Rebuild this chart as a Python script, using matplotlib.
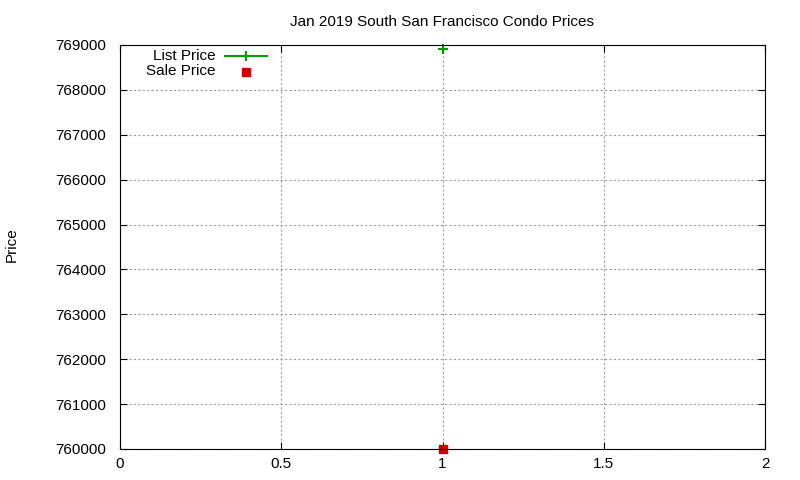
import matplotlib
matplotlib.use("Agg")
import matplotlib.pyplot as plt

x_list = [1]
list_price = [768900]
x_sale = [1]
sale_price = [760000]
yticks = [760000, 761000, 762000, 763000, 764000, 765000, 766000, 767000, 768000, 769000]
xticks = [0, 0.5, 1, 1.5, 2]
xticklabels = ["0", "0.5", "1", "1.5", "2"]

plt.rcParams['font.family'] = ['Liberation Sans', 'DejaVu Sans']
fig = plt.figure(figsize=(8, 4.8), dpi=100)
ax = fig.add_axes([120/800, 1-449/480, (765-120)/800, (449-45)/480])
ax.plot(x_list, list_price, color='#00a000', marker='+', markersize=7, mew=1.5, linestyle='none', clip_on=False)
ax.plot(x_sale, sale_price, color='#d00000', marker='s', markersize=6, linestyle='none', clip_on=False)
ax.set_xlim(0, 2)
ax.set_ylim(760000, 769000)
ax.set_xticks(xticks)
ax.set_xticklabels(xticklabels)
ax.set_yticks(yticks)
ax.set_yticklabels([str(v) for v in yticks])
ax.grid(True, color='#a0a0a0', linestyle=(0, (2, 2)), linewidth=0.8)
ax.tick_params(direction='in', labelsize=11, top=True, right=True, length=5)
ax.tick_params(axis='y', pad=10)
ax.tick_params(axis='x', pad=6)
for s in ax.spines.values():
    s.set_linewidth(0.8)
ax.set_title("Jan 2019 South San Francisco Condo Prices", fontsize=11, pad=14)
fig.text(12/800, 1-245/480, "Price", rotation=90, ha='center', va='center', fontsize=11)

# legend (gnuplot style)
fig.text(216/800, 1-56/480, "List Price", ha='right', va='center', fontsize=11)
fig.text(216/800, 1-71/480, "Sale Price", ha='right', va='center', fontsize=11)
fig.add_artist(plt.Line2D([225/800, 267/800], [1-56/480]*2, color='#00a000', lw=1.5))
fig.add_artist(plt.Line2D([246/800], [1-56/480], color='#00a000', marker='+', markersize=7, mew=1.5))
fig.add_artist(plt.Line2D([246/800], [1-72/480], color='#d00000', marker='s', markersize=6, lw=0))
fig.savefig("out.png", dpi=100)
